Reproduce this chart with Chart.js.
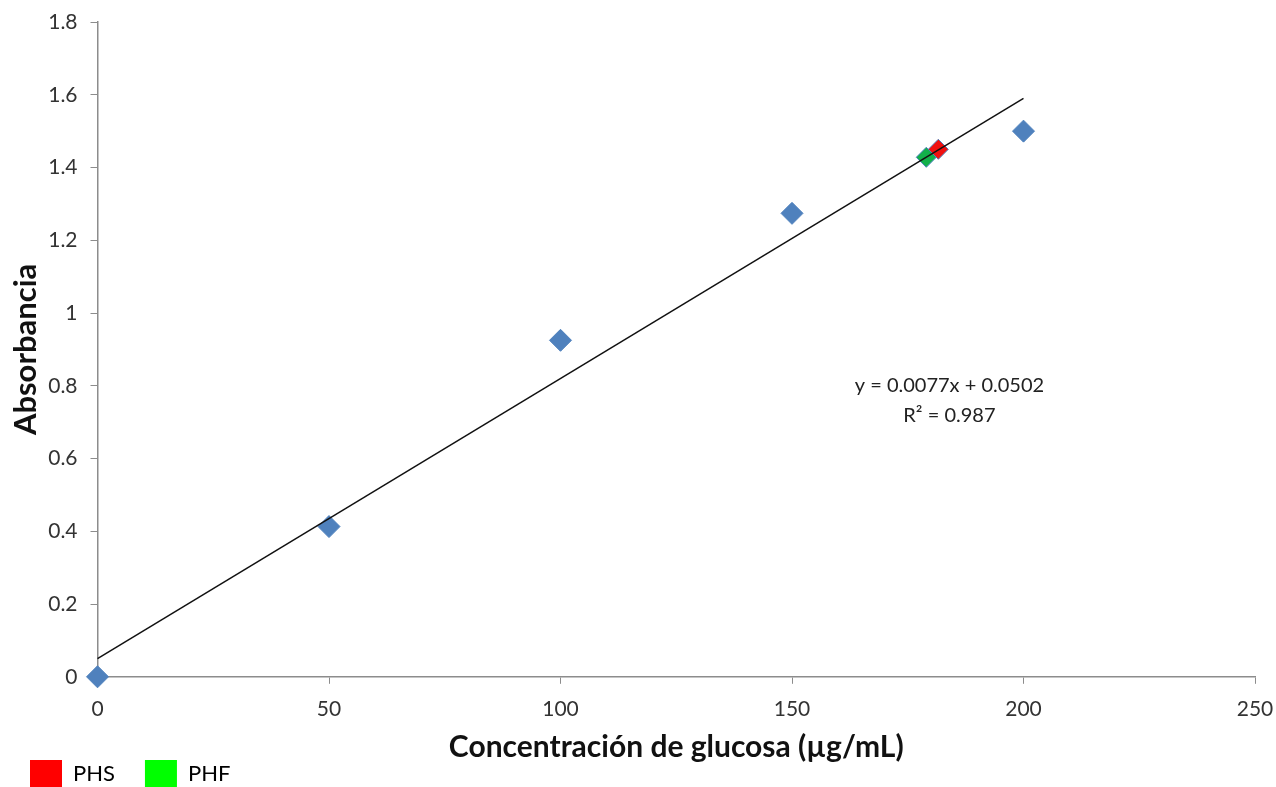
<!doctype html>
<html lang="es">
  <head>
    <meta charset="utf-8">
    <title>Curva de calibración glucosa</title>
    <style>
      * { margin: 0; padding: 0; }
      body { background: #ffffff; width: 1276px; height: 787px; overflow: hidden; }
      .chartBox { width: 1276px; height: 787px; }
    </style>
  </head>
  <body>
    <div class="chartBox">
      <canvas id="myChart"></canvas>
    </div>
    <script src="https://cdn.jsdelivr.net/npm/chart.js"></script>
    <script>
    // data
    const stdX = [0, 50, 100, 150, 200];
    const stdY = [0, 0.413, 0.925, 1.274, 1.50];
    const phsX = [181.6];
    const phsY = [1.450];
    const phfX = [179.0];
    const phfY = [1.428];
    const trendX = [0, 200];
    const trendY = [0.0502, 1.5902];
    const eqLines = ['y = 0.0077x + 0.0502', 'R² = 0.987'];
    const legendNames = ['PHS', 'PHF'];
    const legendColors = ['#ff0000', '#00ff00'];

    const pts = (xs, ys) => xs.map((x, i) => ({ x: x, y: ys[i] }));
    const FONT = 'Lato, "Open Sans", sans-serif';

    // equation label, placed in data space
    const eqLabel = {
      id: 'eqLabel',
      afterDatasetsDraw(chart) {
        const { ctx, scales } = chart;
        const cx = scales.x.getPixelForValue(184);
        const y1 = scales.y.getPixelForValue(0.80);
        ctx.save();
        ctx.font = '20px ' + FONT;
        ctx.fillStyle = '#222';
        ctx.textAlign = 'center';
        ctx.textBaseline = 'middle';
        ctx.fillText(eqLines[0], cx, y1);
        ctx.fillText(eqLines[1], cx, y1 + 30);
        ctx.restore();
      }
    };

    const data = {
      datasets: [
        {
          label: 'Trend',
          type: 'line',
          data: pts(trendX, trendY),
          borderColor: '#111',
          borderWidth: 1.5,
          pointRadius: 0,
          fill: false,
          order: 0
        },
        {
          label: 'PHS',
          data: pts(phsX, phsY),
          backgroundColor: '#f01010',
          borderColor: '#4f81bd',
          borderWidth: 1,
          pointStyle: 'rectRot',
          pointRadius: 10,
          order: 1
        },
        {
          label: 'PHF',
          data: pts(phfX, phfY),
          backgroundColor: '#12b04a',
          borderColor: '#4f81bd',
          borderWidth: 1,
          pointStyle: 'rectRot',
          pointRadius: 10,
          order: 2
        },
        {
          label: 'Estándar',
          data: pts(stdX, stdY),
          backgroundColor: '#4f81bd',
          borderColor: '#4f81bd',
          borderWidth: 1,
          pointStyle: 'rectRot',
          pointRadius: 11,
          order: 3
        }
      ]
    };

    const config = {
      type: 'scatter',
      data,
      options: {
        responsive: false,
        animation: false,
        clip: false,
        layout: { padding: { top: 22, right: 21, left: 0, bottom: -10 } },
        plugins: {
          tooltip: { enabled: false },
          legend: {
            position: 'bottom',
            align: 'start',
            labels: {
              generateLabels: chart => legendNames.map((name, i) => ({
                text: name,
                fillStyle: legendColors[i],
                strokeStyle: legendColors[i],
                lineWidth: 0,
                datasetIndex: chart.data.datasets.findIndex(d => d.label === name)
              })),
              boxWidth: 32,
              boxHeight: 27,
              padding: 30,
              color: '#222',
              font: { family: FONT, size: 22 }
            }
          }
        },
        scales: {
          x: {
            type: 'linear',
            min: 0,
            max: 250,
            afterFit: s => { s.paddingRight = 0; },
            ticks: { stepSize: 50, color: '#333', font: { family: FONT, size: 21 }, padding: 13 },
            grid: { drawOnChartArea: false, drawTicks: true, tickLength: 7, color: '#8c8c8c' },
            border: { display: true, color: '#8c8c8c', width: 1.5 },
            title: {
              display: true,
              text: 'Concentración de glucosa (µg/mL)',
              color: '#111',
              font: { family: FONT, size: 30, weight: 'bold' },
              padding: { top: -6, bottom: -35 }
            }
          },
          y: {
            min: 0,
            max: 1.8,
            afterFit: s => { s.paddingTop = 0; },
            ticks: {
              stepSize: 0.2,
              color: '#333',
              font: { family: FONT, size: 21 },
              padding: 13,
              callback: v => String(+v.toFixed(1))
            },
            grid: { drawOnChartArea: false, drawTicks: true, tickLength: 7, color: '#8c8c8c' },
            border: { display: true, color: '#8c8c8c', width: 1.5 },
            title: {
              display: true,
              text: 'Absorbancia',
              color: '#111',
              font: { family: FONT, size: 31, weight: 'bold' },
              padding: { top: 7, bottom: -9 }
            }
          }
        }
      },
      plugins: [eqLabel]
    };

    const canvas = document.getElementById('myChart');
    canvas.width = 1276;
    canvas.height = 787;
    const myChart = new Chart(canvas, config);
    </script>
  </body>
</html>
